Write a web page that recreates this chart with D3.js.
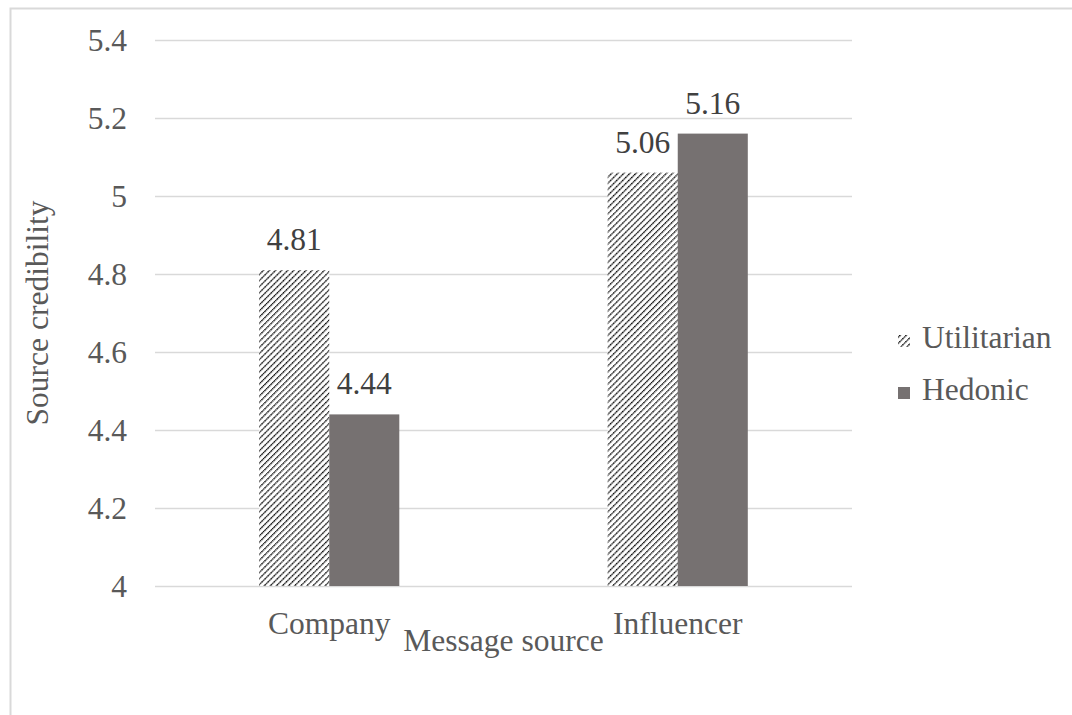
<!DOCTYPE html>
<html>
<head>
<meta charset="utf-8">
<script src="https://cdn.jsdelivr.net/npm/d3@7"></script>
<style>
  html, body { margin: 0; padding: 0; background: #fff; }
  svg { display: block; }
</style>
</head>
<body>
<script>
const categories = ["Company", "Influencer"];
const seriesNames = ["Utilitarian", "Hedonic"];
const utilitarian = [4.81, 5.06];
const hedonic = [4.44, 5.16];
const yTicks = [4, 4.2, 4.4, 4.6, 4.8, 5, 5.2, 5.4];
const yTitle = "Source credibility";
const xTitle = "Message source";

const W = 1072, H = 715;
const font = '"Liberation Serif", "Times New Roman", serif';
const textColor = "#595959";
const fs = 31.5;

const svg = d3.select("body").append("svg").attr("width", W).attr("height", H)
  .style("font-family", font);

const defs = svg.append("defs");
const pat = defs.append("pattern")
  .attr("id", "hatch")
  .attr("patternUnits", "userSpaceOnUse")
  .attr("width", 4.3).attr("height", 4.3)
  .attr("patternTransform", "rotate(45)");
pat.append("rect").attr("width", 4.3).attr("height", 4.3).attr("fill", "#fff");
pat.append("line")
  .attr("x1", 0).attr("y1", 0).attr("x2", 0).attr("y2", 4.3)
  .attr("stroke", "#0d0d0d").attr("stroke-width", 2.6)
  .attr("stroke-dasharray", "1.7 0.45");

// frame
svg.append("path")
  .attr("d", `M10.5,${H} L10.5,8.5 L${W},8.5`)
  .attr("fill", "none").attr("stroke", "#d9d9d9").attr("stroke-width", 2);

const plot = { left: 155, right: 852, top: 40, bottom: 586 };

const y = d3.scaleLinear().domain([4, 5.4]).range([plot.bottom, plot.top]);
const x0 = d3.scaleBand().domain(categories).range([plot.left, plot.right])
  .paddingInner(0.598).paddingOuter(0.299);
const x1 = d3.scaleBand().domain(seriesNames).range([0, x0.bandwidth()]);

// gridlines + y tick labels
const yAxis = d3.axisLeft(y).tickValues(yTicks).tickSize(-(plot.right - plot.left))
  .tickFormat(d => String(+d.toFixed(1)));
const gy = svg.append("g").attr("transform", `translate(${plot.left},0)`).call(yAxis);
gy.attr("font-family", null).attr("font-size", null);
gy.select(".domain").remove();
gy.selectAll(".tick line").attr("stroke", "#d9d9d9").attr("stroke-width", 1.3);
gy.selectAll(".tick text")
  .attr("x", -28).attr("dy", "0.34em")
  .style("font-family", font).style("font-size", fs + "px").attr("fill", textColor);

const data = categories.map((c, i) => ({ cat: c, vals: [
  { s: "Utilitarian", v: utilitarian[i] },
  { s: "Hedonic", v: hedonic[i] }
]}));

const groups = svg.selectAll("g.cat").data(data).join("g")
  .attr("class", "cat")
  .attr("transform", d => `translate(${x0(d.cat)},0)`);

groups.selectAll("rect").data(d => d.vals).join("rect")
  .attr("x", d => x1(d.s))
  .attr("y", d => y(d.v))
  .attr("width", x1.bandwidth())
  .attr("height", d => y(4) - y(d.v))
  .attr("fill", d => d.s === "Utilitarian" ? "url(#hatch)" : "#767171");

groups.selectAll("text.val").data(d => d.vals).join("text")
  .attr("class", "val")
  .attr("x", d => x1(d.s) + x1.bandwidth() / 2)
  .attr("y", d => y(d.v) - 20)
  .attr("text-anchor", "middle")
  .style("font-family", font).style("font-size", fs + "px").attr("fill", "#404040")
  .text(d => d.v.toFixed(2));

// x axis labels
const xAxis = d3.axisBottom(x0).tickSize(0).tickPadding(0);
const gx = svg.append("g").attr("transform", `translate(0,${plot.bottom})`).call(xAxis);
gx.attr("font-family", null).attr("font-size", null);
gx.select(".domain").remove();
gx.selectAll(".tick text")
  .attr("y", 48).attr("dy", 0)
  .style("font-family", font).style("font-size", fs + "px").attr("fill", textColor);

// axis titles
svg.append("text")
  .attr("x", (plot.left + plot.right) / 2).attr("y", 651)
  .attr("text-anchor", "middle")
  .style("font-family", font).style("font-size", fs + "px").attr("fill", textColor)
  .text(xTitle);

svg.append("text")
  .attr("transform", `translate(48,${(plot.top + plot.bottom) / 2}) rotate(-90)`)
  .attr("text-anchor", "middle")
  .style("font-family", font).style("font-size", fs + "px").attr("fill", textColor)
  .text(yTitle);

// legend
const legend = svg.append("g");
const legY = d3.scalePoint().domain(seriesNames).range([348, 400]);
seriesNames.forEach(s => {
  legend.append("rect")
    .attr("x", 898).attr("y", legY(s) - 13)
    .attr("width", 12).attr("height", 12)
    .attr("fill", s === "Utilitarian" ? "url(#hatch)" : "#767171");
  legend.append("text")
    .attr("x", 922).attr("y", legY(s))
    .style("font-family", font).style("font-size", fs + "px").attr("fill", textColor)
    .text(s);
});
</script>
</body>
</html>
